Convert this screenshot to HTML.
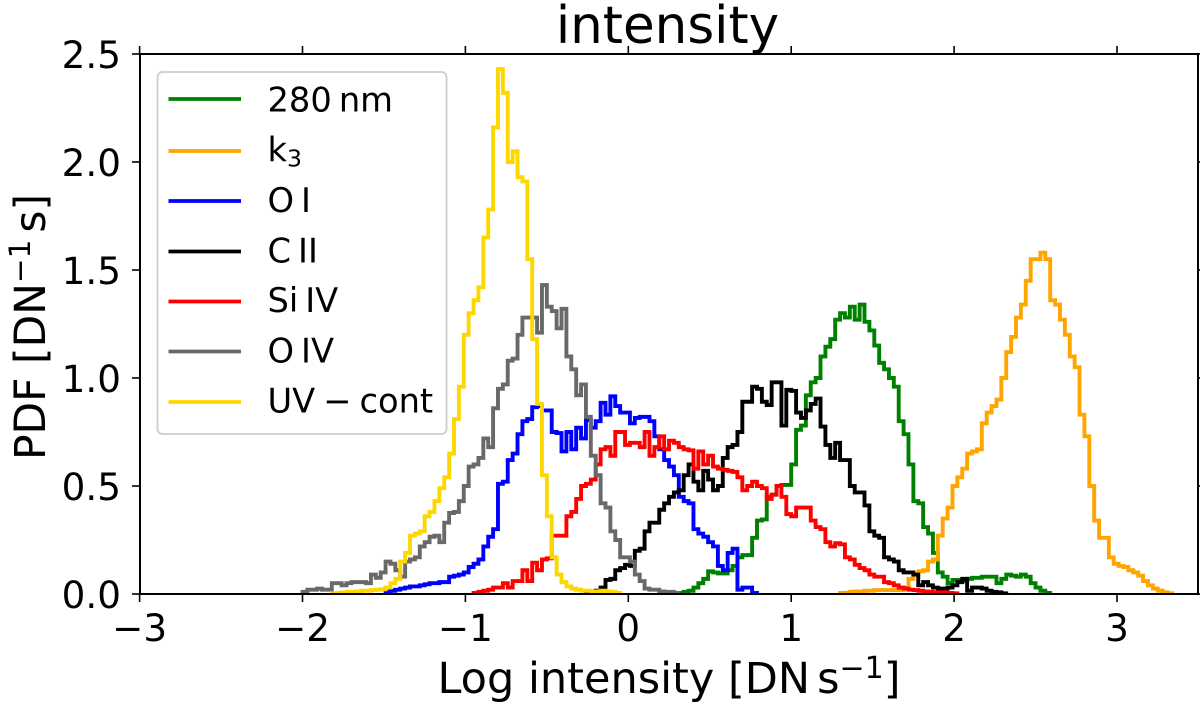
<!DOCTYPE html>
<html lang="en">
<head>
<meta charset="utf-8">
<title>intensity</title>
<style>
  html, body { margin: 0; padding: 0; background: #fff; }
  body { width: 1200px; height: 706px; overflow: hidden; }
  svg { display: block; font-family: "DejaVu Sans", "Liberation Sans", sans-serif; fill: #000; }
</style>
</head>
<body>
<svg id="chart" xmlns="http://www.w3.org/2000/svg" width="1200" height="706" viewBox="0 0 1200 706">
  <defs>
    <clipPath id="plot-clip"><rect x="140" y="54" width="1058" height="540"></rect></clipPath>
  </defs>
  <rect x="0" y="0" width="1200" height="706" fill="#fff"></rect>
  <g id="series-layer" clip-path="url(#plot-clip)" fill="none"></g>
  <g id="tick-layer"></g>
  <rect x="140" y="54" width="1058" height="540" fill="none" stroke="#000" stroke-width="2"></rect>

  <text x="667.5" y="43" font-size="51.5" text-anchor="middle">intensity</text>
  <text x="669" y="693" font-size="43" text-anchor="middle">Log intensity [DN<tspan dx="7">s</tspan><tspan dy="-15" font-size="30">−1</tspan><tspan dy="15">]</tspan></text>
  <text transform="translate(45,327) rotate(-90)" font-size="42.4" text-anchor="middle">PDF [DN<tspan dy="-15" font-size="29.5">−1</tspan><tspan dy="15" dx="7">s]</tspan></text>

  <g>
    <rect x="157.5" y="72" width="289" height="362" rx="5" ry="5" fill="#fff" fill-opacity="0.8" stroke="#ccc" stroke-width="1.8"></rect>
    <g>
      <line x1="168.5" x2="241" y1="99" y2="99" stroke="#008000" stroke-width="3.8"></line>
      <text x="267.5" y="111.7" font-size="33.7">280<tspan dx="7">nm</tspan></text>
    </g>
    <g>
      <line x1="168.5" x2="241" y1="151" y2="151" stroke="#FFA500" stroke-width="3.8"></line>
      <text x="267.5" y="161.7" font-size="33.7">k<tspan dy="5" font-size="23.5">3</tspan></text>
    </g>
    <g>
      <line x1="168.5" x2="241" y1="201" y2="201" stroke="#0000FF" stroke-width="3.8"></line>
      <text x="267.5" y="212" font-size="33.7">O<tspan dx="7">I</tspan></text>
    </g>
    <g>
      <line x1="168.5" x2="241" y1="251.5" y2="251.5" stroke="#000" stroke-width="3.8"></line>
      <text x="267.5" y="262.7" font-size="33.7">C<tspan dx="7">II</tspan></text>
    </g>
    <g>
      <line x1="168.5" x2="241" y1="301.5" y2="301.5" stroke="#FF0000" stroke-width="3.8"></line>
      <text x="267.5" y="312" font-size="33.7">Si<tspan dx="7">IV</tspan></text>
    </g>
    <g>
      <line x1="168.5" x2="241" y1="351.5" y2="351.5" stroke="#696969" stroke-width="3.8"></line>
      <text x="267.5" y="362.7" font-size="33.7">O<tspan dx="7">IV</tspan></text>
    </g>
    <g>
      <line x1="168.5" x2="241" y1="402" y2="402" stroke="#FFD700" stroke-width="3.8"></line>
      <text x="267.5" y="412.7" font-size="33.7">UV<tspan dx="8">−</tspan><tspan dx="8">cont</tspan></text>
    </g>
  </g>
</svg>
<script>
const binWidth = 0.03;

const xTickValues = [-3, -2, -1, 0, 1, 2, 3];
const xTickLabels = ["−3", "−2", "−1", "0", "1", "2", "3"];
const yTickValues = [0, 0.5, 1, 1.5, 2, 2.5];
const yTickLabels = ["0.0", "0.5", "1.0", "1.5", "2.0", "2.5"];

const green280Start = 0.31;
const green280Values = [.005,.01,.015,.03,.05,.07,.105,.1,.095,.095,.11,.13,.17,.18,.18,.26,.34,.345,.45,.46,.5,.505,.505,.6,.76,.78,.92,.98,1.0,1.1,1.145,1.18,1.27,1.3,1.28,1.33,1.27,1.34,1.26,1.22,1.15,1.07,1.04,1.0,.96,.8,.74,.6,.43,.42,.31,.28,.19,.1,.08,.05,.065,.065,.06,.07,.075,.075,.08,.08,.08,.05,.07,.09,.085,.08,.09,.08,.05,.03,.015,.005];

const orangeK3Start = 1.30;
const orangeK3Values = [.005,.006,.01,.012,.012,.015,.015,.018,.018,.018,.018,.018,.018,.03,.07,.09,.105,.11,.15,.16,.27,.35,.4,.5,.54,.58,.65,.66,.67,.79,.84,.87,.9,1.0,1.12,1.19,1.28,1.34,1.45,1.55,1.55,1.58,1.55,1.36,1.34,1.27,1.2,1.1,1.05,.83,.73,.5,.34,.26,.26,.17,.14,.13,.125,.11,.1,.085,.06,.04,.025,.015,.008,.003];

const blueOIStart = -1.49;
const blueOIValues = [.01,.015,.02,.025,.03,.035,.035,.04,.045,.05,.05,.055,.055,.08,.085,.09,.1,.125,.14,.16,.22,.265,.3,.51,.52,.62,.65,.74,.8,.81,.865,.87,.85,.85,.75,.745,.66,.75,.67,.77,.72,.805,.77,.8,.885,.83,.915,.87,.84,.84,.79,.815,.82,.82,.8,.73,.67,.62,.59,.55,.45,.43,.42,.3,.28,.265,.24,.22,.13,.11,.19,.21,.02,.03,.03,.005];

const blackCIIStart = -0.26;
const blackCIIValues = [.005,.01,.015,.03,.065,.07,.11,.12,.135,.13,.2,.21,.29,.33,.33,.39,.42,.45,.47,.48,.55,.6,.52,.48,.57,.53,.48,.5,.63,.68,.69,.75,.89,.89,.96,.95,.89,.875,.98,.98,.78,.945,.94,.84,.815,.85,.88,.905,.775,.69,.63,.7,.62,.62,.5,.47,.47,.41,.29,.27,.26,.17,.16,.15,.11,.1,.1,.09,.04,.055,.04,.03,.025,.025,.03,.04,.055,.07,.015,.03,.03,.025,.015,.01,.008,.003];

const redSiIVStart = -0.95;
const redSiIVValues = [.005,.01,.015,.02,.03,.03,.05,.03,.06,.06,.11,.06,.145,.11,.16,.165,.27,.27,.27,.36,.38,.44,.5,.51,.53,.6,.67,.68,.64,.75,.75,.69,.7,.7,.68,.75,.64,.68,.73,.67,.71,.7,.68,.67,.665,.58,.66,.6,.64,.59,.58,.575,.57,.565,.54,.48,.5,.52,.5,.49,.44,.46,.5,.45,.37,.36,.4,.4,.4,.34,.31,.3,.24,.22,.235,.23,.17,.16,.135,.12,.11,.09,.08,.08,.055,.05,.04,.03,.025,.02,.018,.015,.012,.01,.008,.008,.008,.005,.003];

const grayOIVStart = -2.0;
const grayOIVValues = [.01,.02,.02,.025,.02,.02,.05,.05,.04,.05,.055,.055,.055,.05,.09,.075,.1,.15,.14,.11,.08,.15,.16,.17,.22,.24,.265,.27,.24,.33,.375,.38,.43,.5,.59,.6,.63,.72,.68,.86,.95,.97,1.08,1.09,1.2,1.28,1.28,1.28,1.21,1.43,1.33,1.31,1.23,1.32,1.1,1.04,.92,.97,.82,.64,.55,.42,.4,.29,.25,.17,.17,.15,.09,.06,.025,.02,.02,.012,.01,.01,.005];

const yellowUVStart = -1.82;
const yellowUVValues = [.003,.005,.007,.01,.01,.012,.015,.015,.018,.02,.022,.03,.05,.07,.15,.19,.27,.28,.29,.36,.38,.43,.49,.54,.65,.81,.96,1.2,1.3,1.36,1.42,1.65,1.78,2.16,2.43,2.32,2.0,2.05,1.93,1.91,1.55,1.18,.88,.55,.36,.17,.09,.055,.035,.025,.02,.015,.015,.012,.012,.015,.012,.01,.005];

const SVG_NS = "http://www.w3.org/2000/svg";
const xAxis = v => 628.3 + 162.9 * v;
const yAxis = v => 594 - 216 * v;

function stepPath(start, values) {
  let d = "M" + xAxis(start).toFixed(2) + " " + yAxis(0);
  values.forEach(function (v, i) {
    const left = xAxis(start + i * binWidth).toFixed(2);
    const right = xAxis(start + (i + 1) * binWidth).toFixed(2);
    const y = yAxis(v).toFixed(2);
    d += "L" + left + " " + y + "L" + right + " " + y;
  });
  d += "L" + xAxis(start + values.length * binWidth).toFixed(2) + " " + yAxis(0);
  return d;
}

const seriesLayer = document.getElementById("series-layer");
const tickLayer = document.getElementById("tick-layer");

function addSeries(start, values, color, name) {
  const p = document.createElementNS(SVG_NS, "path");
  p.setAttribute("d", stepPath(start, values));
  p.setAttribute("stroke", color);
  p.setAttribute("stroke-width", "3.9");
  p.setAttribute("stroke-linejoin", "miter");
  p.setAttribute("fill", "none");
  
  
  seriesLayer.appendChild(p);
}

addSeries(green280Start, green280Values, "#008000", "series-280nm");
addSeries(orangeK3Start, orangeK3Values, "#FFA500", "series-k3");
addSeries(blueOIStart, blueOIValues, "#0000FF", "series-o-i");
addSeries(blackCIIStart, blackCIIValues, "#000000", "series-c-ii");
addSeries(redSiIVStart, redSiIVValues, "#FF0000", "series-si-iv");
addSeries(grayOIVStart, grayOIVValues, "#696969", "series-o-iv");
addSeries(yellowUVStart, yellowUVValues, "#FFD700", "series-uv-cont");

function addTick(x1, y1, x2, y2, name) {
  const l = document.createElementNS(SVG_NS, "line");
  l.setAttribute("x1", x1);
  l.setAttribute("y1", y1);
  l.setAttribute("x2", x2);
  l.setAttribute("y2", y2);
  l.setAttribute("stroke", "#000");
  l.setAttribute("stroke-width", "1.6");
  
  
  tickLayer.appendChild(l);
}

function addTickLabel(x, y, anchor, label, name) {
  const t = document.createElementNS(SVG_NS, "text");
  t.setAttribute("x", x);
  t.setAttribute("y", y);
  t.setAttribute("text-anchor", anchor);
  t.setAttribute("font-size", "37.3");
  t.textContent = label;
  
  
  tickLayer.appendChild(t);
}

xTickValues.forEach(function (v, i) {
  const x = xAxis(v);
  addTick(x, 594, x, 602, "x-tick-bottom");
  addTick(x, 54, x, 46, "x-tick-top");
  addTickLabel(x, 641, "middle", xTickLabels[i], "x-tick-label");
});

yTickValues.forEach(function (v, i) {
  const y = yAxis(v);
  addTick(140, y, 132, y, "y-tick-left");
  addTick(1198, y, 1206, y, "y-tick-right");
  addTickLabel(121, y + 14.2, "end", yTickLabels[i], "y-tick-label");
});
</script>
</body>
</html>
